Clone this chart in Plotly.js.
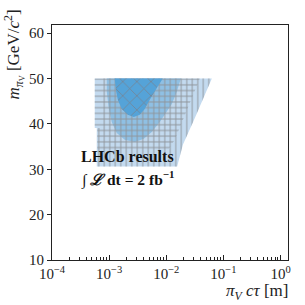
<!DOCTYPE html>
<html><head><meta charset="utf-8">
<script src="https://cdn.plot.ly/plotly-3.0.1.min.js"></script>
<style>html,body{margin:0;padding:0;background:#fff}#c{width:305px;height:305px}</style>
</head><body><div id="c"></div>
<script>
// Excluded regions (pi_V c*tau in m, m_piV in GeV/c^2)
const envelopeX = [5.60e-4, 6.27e-2, 3.16e-2, 1.95e-2, 1.55e-2, 6.07e-4, 6.07e-4, 5.60e-4];
const envelopeY = [50, 50, 41.3, 35.4, 30.6, 30.6, 39.1, 39.1];
const horizX = [5.60e-4, 3.87e-2, 1.41e-2, 1.02e-2, 6.2e-4, 6.2e-4, 5.60e-4];
const horizY = [50, 50, 36.5, 33.8, 33.8, 39.1, 39.1];
const vertX = [7.4e-4, 6.27e-2, 3.16e-2, 1.95e-2, 1.55e-2, 6.07e-4, 6.07e-4, 7.4e-4];
const vertY = [50, 50, 41.3, 35.4, 30.6, 30.6, 39.1, 39.1];
const midX = [1.80e-2, 1.53e-2, 1.25e-2, 9.79e-3, 7.69e-3, 5.57e-3, 4.04e-3, 2.81e-3, 1.87e-3, 1.36e-3, 1.11e-3, 9.84e-4, 9.08e-4, 9.08e-4];
const midY = [50, 47.1, 44.4, 42.4, 40.4, 38.2, 36.7, 36.0, 36.5, 38.0, 40.4, 43.5, 47.1, 50];
const coreX = [1.25e-3, 1.31e-3, 1.42e-3, 1.66e-3, 2.12e-3, 2.70e-3, 3.44e-3, 4.20e-3, 5.14e-3, 6.55e-3, 8.69e-3];
const coreY = [50, 47.5, 45.3, 43.3, 42.0, 41.5, 42.0, 43.3, 45.3, 47.5, 50];

const xTickVals = [1e-4, 1e-3, 1e-2, 1e-1, 1];
const xTickText = ['10<sup>−4</sup>', '10<sup>−3</sup>', '10<sup>−2</sup>', '10<sup>−1</sup>', '10<sup>0</sup>'];
const yTickVals = [10, 20, 30, 40, 50, 60];

const minorVals = [];
for (let e = -4; e <= 0; e++) for (let d = 2; d <= 9; d++) minorVals.push(d * Math.pow(10, e));

const serif = 'Liberation Serif, DejaVu Serif, serif';
const hatch = '#8e949a';
function region(x, y, fill, pattern) {
  const t = {x: x, y: y, mode: 'none', fill: 'toself', fillcolor: fill,
             hoverinfo: 'skip', showlegend: false};
  if (pattern) t.fillpattern = pattern;
  return t;
}
const data = [
  region(envelopeX, envelopeY, '#c3daef'),
  region(midX, midY, '#8fc0e4'),
  region(horizX, horizY, 'rgba(0,0,0,0)', {shape: '-', size: 5.7, solidity: 0.17, fgcolor: hatch, bgcolor: 'rgba(0,0,0,0)'}),
  region(vertX, vertY, 'rgba(0,0,0,0)', {shape: '|', size: 5.5, solidity: 0.17, fgcolor: hatch, bgcolor: 'rgba(0,0,0,0)'}),
  region(coreX, coreY, '#55a3d8', {shape: 'x', size: 10, solidity: 0.13, fgcolor: '#7a7f88', bgcolor: '#55a3d8'})
];
const layout = {
  width: 305, height: 305,
  margin: {l: 52, r: 17, t: 25, b: 45},
  paper_bgcolor: '#fff', plot_bgcolor: '#fff',
  font: {family: serif, size: 15, color: '#222'},
  xaxis: {type: 'log', range: [-4, 0.13], tickmode: 'array', tickvals: xTickVals, ticktext: xTickText,
          ticks: 'inside', ticklen: 5, tickcolor: '#222', showgrid: false, zeroline: false,
          showline: true, linecolor: '#222', linewidth: 1, mirror: true,
          minor: {tickmode: 'array', tickvals: minorVals, ticks: 'inside', ticklen: 3, tickcolor: '#222', showgrid: false},
          tickfont: {family: serif, size: 15, color: '#222'}},
  yaxis: {range: [10, 61.8], tickmode: 'array', tickvals: yTickVals, ticks: 'outside', ticklen: 4,
          tickcolor: '#222', showgrid: false, zeroline: false, showline: true, linecolor: '#222',
          linewidth: 1, mirror: true, tickfont: {family: serif, size: 15, color: '#222'}},
  annotations: [
    {xref: 'paper', yref: 'paper', x: 0.115, y: 0.486, xanchor: 'left', yanchor: 'top', showarrow: false,
     text: '<b>LHCb results</b>', font: {family: serif, size: 16, color: '#111'}},
    {xref: 'paper', yref: 'paper', x: 0.115, y: 0.4, xanchor: 'left', yanchor: 'top', showarrow: false,
     text: '<b>∫ <i>ℒ</i> dt = 2 fb<sup>−1</sup></b>', font: {family: serif, size: 15.5, color: '#111'}},
    {xref: 'paper', yref: 'paper', x: -0.16, y: 1.075, xanchor: 'center', yanchor: 'top', showarrow: false,
     textangle: -90, text: '<i>m</i><sub><i>π</i><sub>V</sub></sub> [GeV/<i>c</i><sup>2</sup>]',
     font: {family: serif, size: 17, color: '#222'}},
    {xref: 'paper', yref: 'paper', x: 1.01, y: -0.136, xanchor: 'right', yanchor: 'middle', showarrow: false,
     text: '<i>π</i><sub><i>V</i></sub> <i>cτ</i> [m]', font: {family: serif, size: 17, color: '#222'}}
  ]
};
Plotly.newPlot('c', data, layout, {staticPlot: true, displayModeBar: false});
</script></body></html>
